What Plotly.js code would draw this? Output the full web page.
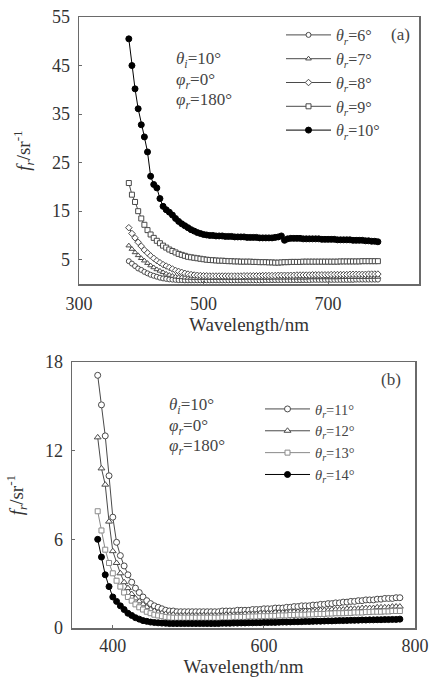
<!DOCTYPE html>
<html>
<head>
<meta charset="utf-8">
<script src="https://cdn.plot.ly/plotly-3.0.1.min.js"></script>
<style>html,body{margin:0;padding:0;background:#fff}#chart{width:432px;height:677px}</style>
</head>
<body>
<div id="chart"></div>
<script>
// ---------- DATA ----------
const wavelength = [380,385,390,395,400,405,410,415,420,425,
430,435,440,445,450,455,460,465,470,475,
480,485,490,495,500,505,510,515,520,525,
530,535,540,545,550,555,560,565,570,575,
580,585,590,595,600,605,610,615,620,625,
630,635,640,645,650,655,660,665,670,675,
680,685,690,695,700,705,710,715,720,725,
730,735,740,745,750,755,760,765,770,775,
780];

// panel (a)
const a_theta6 = [4.7,4.2,3.7,3.2,2.9,2.5,2.2,1.9,1.7,1.5,
1.3,1.15,1.05,0.95,0.9,0.85,0.8,0.8,0.75,0.75,
0.75,0.75,0.75,0.75,0.75,0.75,0.75,0.75,0.75,0.75,
0.75,0.75,0.75,0.75,0.75,0.75,0.75,0.75,0.75,0.75,
0.75,0.75,0.75,0.75,0.8,0.8,0.8,0.8,0.8,0.8,
0.8,0.8,0.8,0.8,0.8,0.8,0.8,0.8,0.8,0.85,
0.85,0.85,0.85,0.85,0.85,0.85,0.85,0.85,0.85,0.85,
0.85,0.85,0.85,0.9,0.9,0.9,0.9,0.9,0.9,0.9,
0.9];
const a_theta7 = [7.9,7.2,6.5,5.9,5.3,4.8,4.3,3.8,3.4,3.0,
2.7,2.4,2.1,1.85,1.65,1.5,1.4,1.35,1.3,1.25,
1.25,1.2,1.2,1.2,1.2,1.2,1.2,1.2,1.2,1.2,
1.2,1.2,1.2,1.2,1.2,1.2,1.2,1.2,1.25,1.25,
1.25,1.25,1.25,1.25,1.25,1.25,1.3,1.3,1.3,1.3,
1.3,1.3,1.3,1.3,1.3,1.3,1.3,1.3,1.35,1.35,
1.35,1.35,1.35,1.35,1.35,1.35,1.35,1.35,1.4,1.4,
1.4,1.4,1.4,1.4,1.4,1.4,1.4,1.4,1.45,1.45,
1.45];
const a_theta8 = [11.6,10.4,9.5,8.6,7.8,7.0,6.4,5.8,5.3,4.8,
4.4,4.0,3.7,3.4,3.1,2.8,2.6,2.4,2.2,2.05,
1.95,1.85,1.8,1.75,1.7,1.7,1.65,1.65,1.65,1.65,
1.65,1.65,1.65,1.65,1.65,1.65,1.65,1.7,1.7,1.7,
1.7,1.7,1.7,1.75,1.75,1.75,1.75,1.75,1.8,1.8,
1.8,1.8,1.8,1.8,1.85,1.85,1.85,1.85,1.85,1.9,
1.9,1.9,1.9,1.9,1.9,1.95,1.95,1.95,1.95,1.95,
1.95,2.0,2.0,2.0,2.0,2.0,2.0,2.05,2.05,2.05,
2.05];
const a_theta9 = [20.8,18.4,16.9,15.0,13.5,12.2,11.1,10.2,9.5,8.9,
8.4,7.9,7.5,7.1,6.8,6.5,6.2,6.0,5.8,5.6,
5.5,5.4,5.3,5.2,5.1,5.0,4.95,4.9,4.85,4.8,
4.8,4.75,4.7,4.7,4.65,4.65,4.6,4.6,4.6,4.6,
4.55,4.55,4.5,4.5,4.5,4.45,4.45,4.4,4.4,4.45,
4.5,4.5,4.55,4.55,4.55,4.55,4.6,4.6,4.6,4.6,
4.6,4.6,4.6,4.6,4.6,4.6,4.6,4.6,4.65,4.65,
4.65,4.65,4.65,4.65,4.65,4.7,4.7,4.7,4.7,4.7,
4.7];
const a_theta10 = [50.5,45.0,40.2,36.1,32.8,30.3,27.2,22.2,20.5,19.8,
17.6,16.0,15.3,14.8,14.2,13.5,12.9,12.4,12.0,11.6,
11.2,10.9,10.6,10.4,10.2,10.1,10.0,10.0,9.9,9.9,
9.9,9.8,9.8,9.8,9.7,9.7,9.7,9.7,9.6,9.6,
9.6,9.6,9.5,9.5,9.5,9.5,9.5,9.6,9.7,9.9,
9.0,9.3,9.4,9.4,9.4,9.4,9.3,9.3,9.3,9.3,
9.3,9.3,9.2,9.2,9.2,9.2,9.2,9.1,9.1,9.1,
9.1,9.1,9.0,9.0,9.0,9.0,8.9,8.9,8.8,8.8,
8.7];

// panel (b)
const b_theta11 = [17.1,15.1,13.0,10.3,7.5,5.8,4.9,4.2,3.6,3.1,
2.7,2.4,2.1,1.85,1.65,1.5,1.4,1.3,1.2,1.15,
1.15,1.1,1.1,1.1,1.1,1.1,1.1,1.1,1.1,1.1,
1.1,1.1,1.1,1.15,1.15,1.15,1.15,1.2,1.2,1.2,
1.2,1.25,1.25,1.25,1.3,1.3,1.3,1.35,1.35,1.35,
1.4,1.4,1.45,1.45,1.5,1.5,1.5,1.55,1.55,1.6,
1.6,1.65,1.65,1.7,1.7,1.75,1.75,1.8,1.8,1.85,
1.85,1.9,1.9,1.9,1.95,1.95,2.0,2.0,2.0,2.05,
2.05];
const b_theta12 = [12.9,10.8,9.7,7.2,5.2,4.4,3.7,3.1,2.7,2.3,
2.0,1.8,1.6,1.4,1.25,1.15,1.05,1.0,0.95,0.9,
0.9,0.85,0.85,0.85,0.85,0.85,0.85,0.85,0.85,0.85,
0.85,0.85,0.85,0.85,0.9,0.9,0.9,0.9,0.9,0.95,
0.95,0.95,0.95,1.0,1.0,1.0,1.0,1.05,1.05,1.05,
1.05,1.1,1.1,1.1,1.1,1.15,1.15,1.15,1.15,1.2,
1.2,1.2,1.25,1.25,1.25,1.25,1.3,1.3,1.3,1.3,
1.35,1.35,1.35,1.35,1.4,1.4,1.4,1.4,1.45,1.45,
1.45];
const b_theta13 = [7.9,6.6,5.3,4.4,3.7,3.2,2.8,2.4,2.1,1.85,
1.6,1.4,1.25,1.1,1.0,0.9,0.85,0.8,0.75,0.72,
0.7,0.7,0.7,0.7,0.7,0.7,0.7,0.7,0.7,0.7,
0.7,0.7,0.7,0.72,0.72,0.72,0.75,0.75,0.75,0.75,
0.78,0.78,0.78,0.8,0.8,0.8,0.82,0.82,0.85,0.85,
0.85,0.88,0.88,0.9,0.9,0.9,0.92,0.92,0.95,0.95,
0.95,0.98,0.98,1.0,1.0,1.0,1.02,1.02,1.05,1.05,
1.05,1.08,1.08,1.1,1.1,1.1,1.12,1.12,1.15,1.15,
1.15];
const b_theta14 = [6.0,4.8,3.6,2.8,2.1,1.8,1.5,1.25,1.0,0.85,
0.7,0.6,0.5,0.45,0.4,0.37,0.35,0.33,0.32,0.3,
0.3,0.3,0.3,0.3,0.3,0.3,0.3,0.3,0.3,0.3,
0.3,0.3,0.3,0.32,0.32,0.32,0.33,0.33,0.34,0.34,
0.35,0.35,0.36,0.36,0.37,0.37,0.38,0.38,0.39,0.4,
0.4,0.41,0.42,0.42,0.43,0.44,0.44,0.45,0.46,0.46,
0.47,0.48,0.48,0.49,0.5,0.5,0.51,0.52,0.52,0.53,
0.54,0.54,0.55,0.55,0.56,0.56,0.57,0.57,0.58,0.58,
0.6];

const namesA = ['6','7','8','9','10'];
const namesB = ['11','12','13','14'];
const xTickValsA = [300,500,700];
const yTickValsA = [5,15,25,35,45,55];
const xTickValsB = [400,600,800];
const yTickValsB = [0,6,12,18];

// ---------- STYLE / LAYOUT ----------
const W = 432, H = 677;
const px = v => v / W;
const py = v => 1 - v / H;
const FONT = 'Liberation Serif, Times New Roman, serif';
const dark = '#4a4a4a';

function thetaName(n){ return '<i>θ</i><sub><i>r</i></sub>=' + n + '°'; }

function trace(y, name, xa, ya, sym, fill, col, size, leg){
  return {
    x: wavelength, y: y, name: thetaName(name), xaxis: xa, yaxis: ya,
    type: 'scatter', mode: 'lines+markers', legend: leg, legendgroup: leg + name,
    line: {color: col, width: 1},
    marker: {symbol: sym, size: size, color: fill, line: {color: col, width: 1}}
  };
}

const data = [
  trace(a_theta6,  namesA[0], 'x',  'y',  'circle',   '#fff', dark, 5, 'legend'),
  trace(a_theta7,  namesA[1], 'x',  'y',  'triangle-up', '#fff', dark, 5, 'legend'),
  trace(a_theta8,  namesA[2], 'x',  'y',  'diamond',  '#fff', dark, 5, 'legend'),
  trace(a_theta9,  namesA[3], 'x',  'y',  'square',   '#fff', dark, 5, 'legend'),
  trace(a_theta10, namesA[4], 'x',  'y',  'circle',   '#000', '#000', 6, 'legend'),
  trace(b_theta11, namesB[0], 'x2', 'y2', 'circle',   '#fff', dark, 6, 'legend2'),
  trace(b_theta12, namesB[1], 'x2', 'y2', 'triangle-up', '#fff', dark, 6, 'legend2'),
  trace(b_theta13, namesB[2], 'x2', 'y2', 'square',   '#fff', '#8a8a8a', 5, 'legend2'),
  trace(b_theta14, namesB[3], 'x2', 'y2', 'circle',   '#000', '#000', 6, 'legend2')
];

const axisCommon = {
  showgrid: false, zeroline: false, showline: true, mirror: true,
  linecolor: '#6a6a6a', linewidth: 1.5,
  ticks: 'inside', ticklen: 3, tickcolor: '#6a6a6a',
  tickfont: {family: FONT, size: 18, color: '#333'}
};
const titleFont = {family: FONT, size: 19, color: '#333'};
const yTitle = '<i>f</i><sub><i>r</i></sub>/sr<sup>-1</sup>';

const layout = {
  width: W, height: H,
  margin: {l: 0, r: 0, t: 0, b: 0},
  paper_bgcolor: '#fff', plot_bgcolor: '#fff',
  showlegend: true,
  xaxis: Object.assign({}, axisCommon, {
    domain: [px(79), px(419)], range: [300, 846], anchor: 'y',
    tickvals: xTickValsA, ticklabelstandoff: 3,
    title: {text: 'Wavelength/nm', font: titleFont, standoff: 4}
  }),
  yaxis: Object.assign({}, axisCommon, {
    domain: [py(284), py(17)], range: [0, 55], anchor: 'x',
    tickvals: yTickValsA, ticklabelstandoff: 4,
    title: {text: yTitle, font: titleFont, standoff: 16}
  }),
  xaxis2: Object.assign({}, axisCommon, {
    domain: [px(72), px(415)], range: [346, 800], anchor: 'y2',
    tickvals: xTickValsB, ticklabelstandoff: 1,
    title: {text: 'Wavelength/nm', font: titleFont, standoff: 11}
  }),
  yaxis2: Object.assign({}, axisCommon, {
    domain: [py(628), py(362)], range: [0, 18], anchor: 'x2',
    tickvals: yTickValsB, ticklabelstandoff: 4,
    title: {text: yTitle, font: titleFont, standoff: 16}
  }),
  legend: {
    x: px(281), y: py(18), xanchor: 'left', yanchor: 'top',
    bgcolor: 'rgba(0,0,0,0)', borderwidth: 0, tracegroupgap: 0, itemwidth: 45,
    font: {family: FONT, size: 16, color: '#444'}
  },
  legend2: {
    x: px(260), y: py(393), xanchor: 'left', yanchor: 'top',
    bgcolor: 'rgba(0,0,0,0)', borderwidth: 0, tracegroupgap: 0, itemwidth: 45,
    font: {family: FONT, size: 14.5, color: '#444'}
  },
  annotations: [
    {text: '<i>θ</i><sub><i>i</i></sub>=10°', x: px(174), y: py(60)},
    {text: '<i>φ</i><sub><i>r</i></sub>=0°', x: px(174), y: py(81)},
    {text: '<i>φ</i><sub><i>r</i></sub>=180°', x: px(174), y: py(101)},
    {text: '(a)', x: px(389), y: py(35)},
    {text: '<i>θ</i><sub><i>i</i></sub>=10°', x: px(167), y: py(406)},
    {text: '<i>φ</i><sub><i>r</i></sub>=0°', x: px(167), y: py(427)},
    {text: '<i>φ</i><sub><i>r</i></sub>=180°', x: px(167), y: py(447)},
    {text: '(b)', x: px(379), y: py(380)}
  ].map(a => Object.assign({
    xref: 'paper', yref: 'paper', xanchor: 'left', yanchor: 'middle',
    showarrow: false, font: {family: FONT, size: 17, color: '#444'}
  }, a))
};

Plotly.newPlot('chart', data, layout, {displayModeBar: false, staticPlot: true});
</script>
</body>
</html>
